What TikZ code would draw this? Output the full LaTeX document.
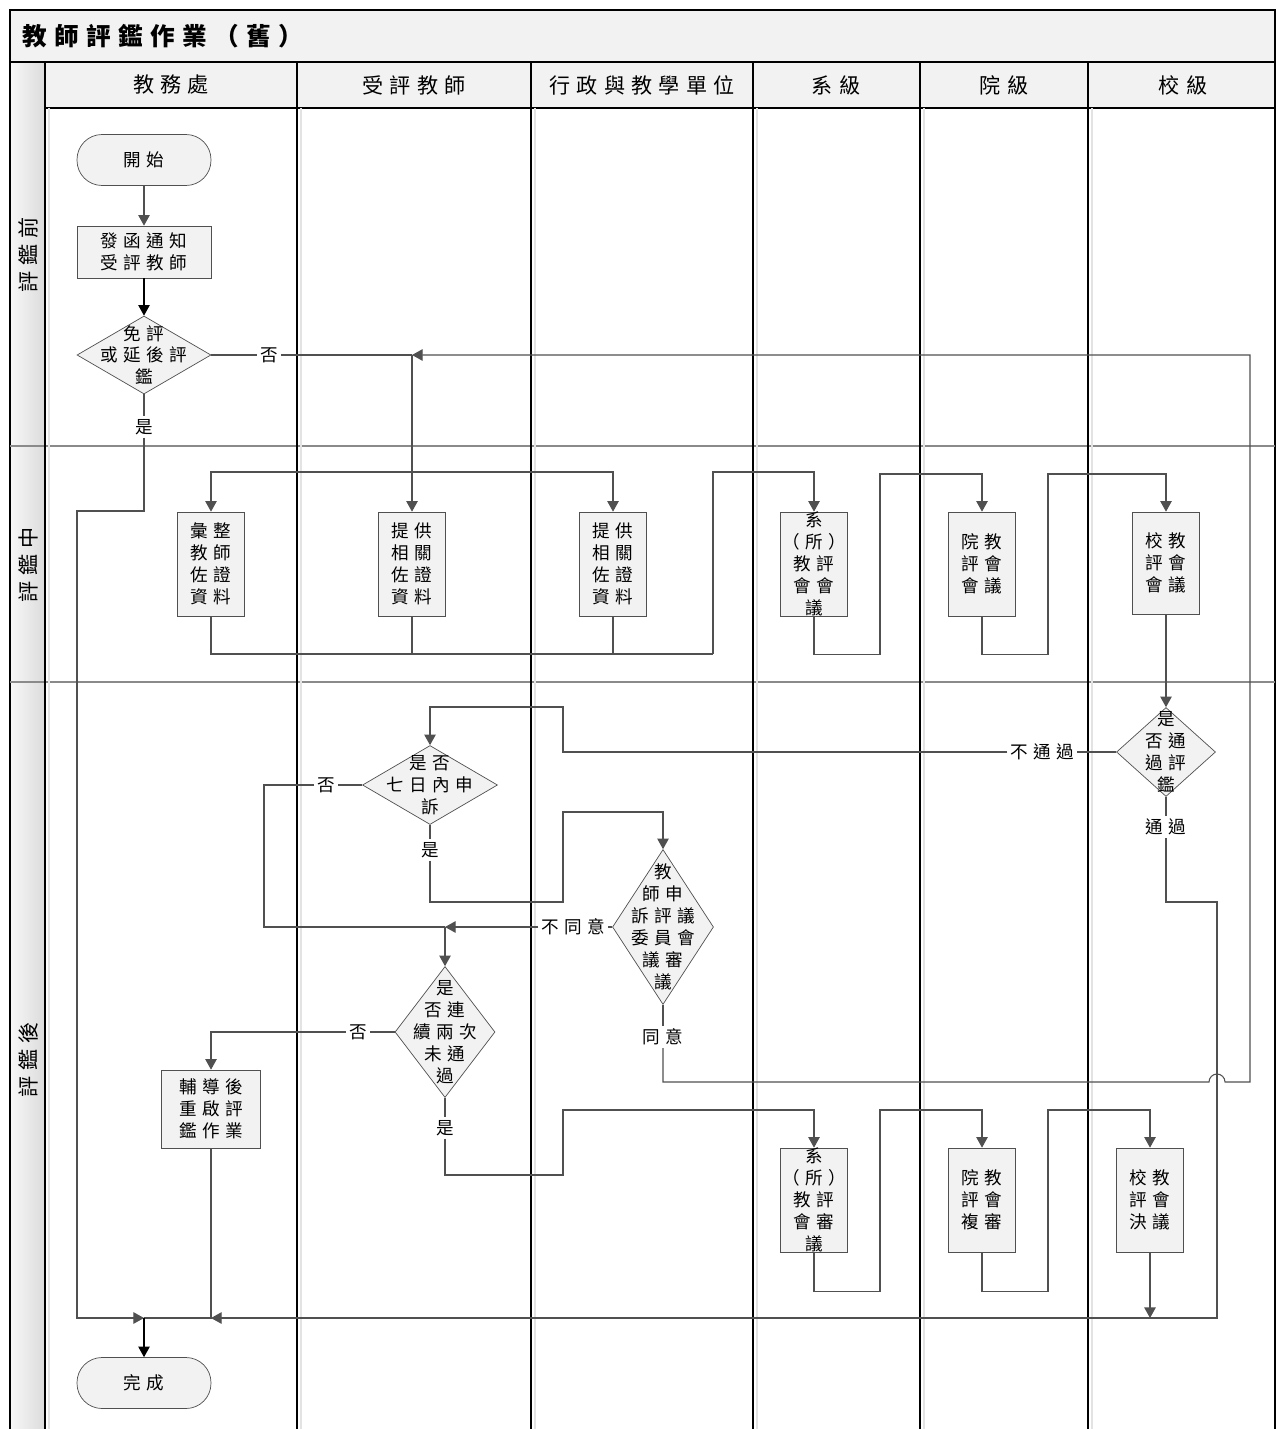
\documentclass[tikz,border=0pt]{standalone}
\usepackage{fontspec}
\setmainfont{Noto Sans CJK TC}[LetterSpace=30]
\usetikzlibrary{arrows.meta,shapes.geometric}

\definecolor{boxfill}{HTML}{F2F2F2}
\definecolor{flowline}{HTML}{505050}
\definecolor{laneline}{HTML}{8A8A8A}

\begin{document}
\begin{tikzpicture}[x=0.02cm, y=-0.02cm,
	every node/.style={font=\fontsize{10}{12.5}\selectfont, align=center},
	terminal/.style={draw=flowline, fill=boxfill, rounded corners=0.5cm, minimum width=2.68cm, minimum height=1.02cm, inner sep=0pt},
	proc/.style={draw=flowline, fill=boxfill, inner sep=0pt},
	narrow/.style={proc, minimum width=1.34cm, minimum height=2.08cm},
	dia/.style={draw=flowline, fill=boxfill, diamond, inner sep=0pt},
	flow/.style={draw=flowline, line width=0.6pt, -{Triangle[length=6pt,width=6.5pt]}},
	link/.style={draw=flowline, line width=0.6pt},
	tag/.style={inner sep=1.5pt},
	lanehead/.style={font=\fontsize{12}{14}\selectfont}]
	\useasboundingbox (0,0) rectangle (1276,1429);
	\path [fill=white] (0,0) rectangle (1276,1429);
	% title band, header row and phase column
	\path [fill=boxfill] (10,10) rectangle (1275,62);
	\path [fill=boxfill] (45,62) rectangle (1275,108);
	\shade [left color=gray!6, right color=gray!28] (10,62) rectangle (45,1429);
	\node [anchor=west, font=\fontsize{14}{16}\selectfont\bfseries] (title) at (16,36) {教師評鑑作業（舊）};
	\node [lanehead] (h1) at (171,85) {教務處};
	\node [lanehead] (h2) at (414,85) {受評教師};
	\node [lanehead] (h3) at (642,85) {行政與教學單位};
	\node [lanehead] (h4) at (836,85) {系級};
	\node [lanehead] (h5) at (1004,85) {院級};
	\node [lanehead] (h6) at (1183,85) {校級};
	\node [lanehead, rotate=90] (p1) at (28,255) {評鑑前};
	\node [lanehead, rotate=90] (p2) at (28,565) {評鑑中};
	\node [lanehead, rotate=90] (p3) at (28,1060) {評鑑後};
	% frame and lanes
	\draw [line width=0.9pt] (10,1429) -- (10,10) -- (1275,10) -- (1275,1429);
	\draw [line width=0.9pt] (10,62) -- (1275,62);
	\draw [line width=0.9pt] (45,108) -- (1275,108);
	\draw [laneline, line width=0.7pt] (10,446) -- (1275,446);
	\draw [laneline, line width=0.7pt] (10,682) -- (1275,682);
	\draw [line width=0.9pt] (45,62) -- (45,1429);
	\draw [line width=0.9pt] (297,62) -- (297,1429);
	\draw [line width=0.9pt] (531,62) -- (531,1429);
	\draw [line width=0.9pt] (753,62) -- (753,1429);
	\draw [line width=0.9pt] (920,62) -- (920,1429);
	\draw [line width=0.9pt] (1088,62) -- (1088,1429);
	\draw [gray!22, line width=0.8pt] (49,108) -- (49,1429);
	\draw [gray!22, line width=0.8pt] (301,108) -- (301,1429);
	\draw [gray!22, line width=0.8pt] (535,108) -- (535,1429);
	\draw [gray!22, line width=0.8pt] (757,108) -- (757,1429);
	\draw [gray!22, line width=0.8pt] (924,108) -- (924,1429);
	\draw [gray!22, line width=0.8pt] (1092,108) -- (1092,1429);

	% before
	\node [terminal] (start) at (144,160) {開始};
	\node [proc, minimum width=2.68cm, minimum height=1.04cm] (notify) at (144,252) {發函通知\\受評教師};
	\node [dia, minimum width=2.68cm, minimum height=1.56cm] (chk1) at (144,355) {};
	\node (chk1t) at (144,355) {免評\\或延後評\\鑑};
	% during
	\node [narrow] (coll) at (211,564) {彙整\\教師\\佐證\\資料};
	\node [narrow] (prov1) at (412,564) {提供\\相關\\佐證\\資料};
	\node [narrow] (prov2) at (613,564) {提供\\相關\\佐證\\資料};
	\node [narrow] (dept1) at (814,564) {};
	\node (dept1t) at (814,564) {系\\（所）\\教評\\會會\\議};
	\node [narrow] (coll1) at (982,564) {院教\\評會\\會議};
	\node [narrow, minimum height=2.04cm] (univ1) at (1166,563) {校教\\評會\\會議};
	% after
	\node [dia, minimum width=1.98cm, minimum height=1.78cm] (pass) at (1166,752) {};
	\node (passt) at (1166,752) {是\\否通\\過評\\鑑};
	\node [dia, minimum width=2.7cm, minimum height=1.58cm] (appeal7) at (430,785) {};
	\node (appeal7t) at (430,785) {是否\\七日內申\\訴};
	\node [dia, minimum width=2.02cm, minimum height=3.1cm] (review) at (663,927) {};
	\node (reviewt) at (663,927) {教\\師申\\訴評議\\委員會\\議審\\議};
	\node [dia, minimum width=2cm, minimum height=2.62cm] (twice) at (445,1032) {};
	\node (twicet) at (445,1032) {是\\否連\\續兩次\\未通\\過};
	\node [proc, minimum width=1.98cm, minimum height=1.56cm] (coach) at (211,1109) {輔導後\\重啟評\\鑑作業};
	\node [narrow] (dept2) at (814,1200) {};
	\node (dept2t) at (814,1200) {系\\（所）\\教評\\會審\\議};
	\node [narrow] (coll2) at (982,1200) {院教\\評會\\複審};
	\node [narrow] (univ2) at (1150,1200) {校教\\評會\\決議};
	\node [terminal] (finish) at (144,1383) {完成};

	% branch labels
	\node [tag] (no1) at (269,355) {否};
	\node [tag] (yes1) at (144,427) {是};
	\node [tag] (fail) at (1042,752) {不通過};
	\node [tag] (ok1) at (1166,827) {通過};
	\node [tag] (no2) at (326,785) {否};
	\node [tag] (yes2) at (430,850) {是};
	\node [tag] (reject) at (573,927) {不同意};
	\node [tag] (agree) at (663,1037) {同意};
	\node [tag] (no3) at (358,1032) {否};
	\node [tag] (yes3) at (445,1128) {是};

	\coordinate (jA) at (412,355);
	\coordinate (jB) at (412,472);
	\coordinate (jC) at (713,654);
	\coordinate (jG) at (445,927);
	\coordinate (jF) at (211,1318);
	\coordinate (jEnd) at (144,1318);

	% connectors
	\draw [flow] (start) -- (notify);
	\draw [flow, draw=black] (notify) -- (chk1);
	\draw [link] (chk1.east) -- (no1);
	\draw [link] (no1) -- (jA);
	\draw [flow] (jA) -- (prov1.north);
	\draw [flow] (jB) -| (coll.north);
	\draw [flow] (jB) -| (prov2.north);
	\draw [link] (chk1.south) -- (yes1);
	\draw [flow] (yes1) -- (144,511) -- (77,511) -- (77,1318) -- (jEnd);
	\draw [link] (coll.south) |- (jC);
	\draw [link] (prov1.south) -- (prov1.south |- jC);
	\draw [link] (prov2.south) -- (prov2.south |- jC);
	\draw [flow] (jC) -- (713,472) -| (dept1.north);
	\draw [flow] (dept1.south) -- ++(0,38) -| (880,474) -| (coll1.north);
	\draw [flow] (coll1.south) -- ++(0,38) -| (1048,474) -| (univ1.north);
	\draw [flow] (univ1.south) -- (pass.north);

	\draw [link] (pass.west) -- (fail);
	\draw [flow] (fail) -| (563,707) -| (appeal7.north);
	\draw [link] (pass.south) -- (ok1);
	\draw [flow] (ok1) |- (1217,902) -- (1217,1318) -- (jF);
	\draw [link] (appeal7.west) -- (no2);
	\draw [link] (no2) -| (264,927) -- (jG);
	\draw [link] (appeal7.south) -- (yes2);
	\draw [flow] (yes2) |- (563,902) -- (563,812) -| (review.north);
	\draw [link] (review.west) -- (reject);
	\draw [flow] (reject) -- (jG);
	\draw [flow] (jG) -- (twice.north);
	\draw [link] (review.south) -- (agree);
	\draw [flow] (agree) |- (1209,1082) arc[start angle=180, end angle=0, radius=0.16cm] -- (1250,1082) -- (1250,355) -- (jA);
	\draw [link] (twice.west) -- (no3);
	\draw [flow] (no3) -| (coach.north);
	\draw [link] (twice.south) -- (yes3);
	\draw [flow] (yes3) |- (563,1175) -- (563,1110) -| (dept2.north);
	\draw [flow] (dept2.south) -- ++(0,39) -| (880,1110) -| (coll2.north);
	\draw [flow] (coll2.south) -- ++(0,39) -| (1048,1110) -| (univ2.north);
	\draw [flow] (univ2.south) -- (univ2.south |- jF);
	\draw [link] (coach.south) |- (jEnd);
	\draw [flow, draw=black] (jEnd) -- (finish.north);
\end{tikzpicture}
\end{document}
